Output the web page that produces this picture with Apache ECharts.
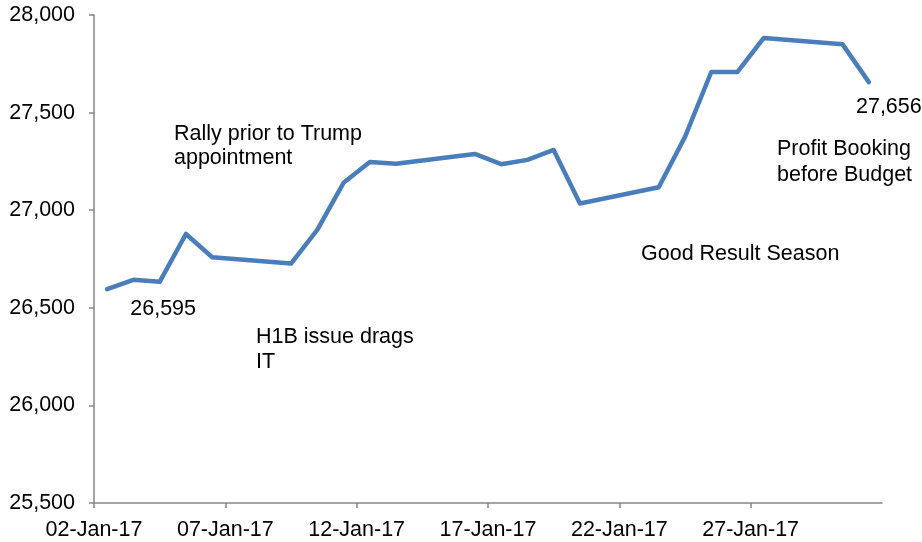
<!DOCTYPE html>
<html>
<head>
<meta charset="utf-8">
<script src="https://cdn.jsdelivr.net/npm/echarts@6/dist/echarts.min.js"></script>
<style>
  html, body { margin: 0; padding: 0; background: #fff; }
  #chart { width: 922px; height: 542px; }
</style>
</head>
<body>
<div id="chart"></div>
<script>
// Sensex daily close, January 2017
const dates = [
  '2017-01-02', '2017-01-03', '2017-01-04', '2017-01-05', '2017-01-06',
  '2017-01-09', '2017-01-10', '2017-01-11', '2017-01-12', '2017-01-13',
  '2017-01-16', '2017-01-17', '2017-01-18', '2017-01-19', '2017-01-20',
  '2017-01-23', '2017-01-24', '2017-01-25', '2017-01-26', '2017-01-27',
  '2017-01-30', '2017-01-31'
];
const closes = [
  26595.45, 26643.24, 26633.13, 26878.24, 26759.23,
  26726.68, 26899.56, 27140.41, 27247.16, 27238.06,
  27288.17, 27235.66, 27257.87, 27308.60, 27034.50,
  27117.34, 27375.58, 27708.14, 27708.14, 27882.46,
  27849.56, 27655.96
];
const axisStart = '2017-01-02';
const axisEnd = '2017-02-01';
const yTicks = [25500, 26000, 26500, 27000, 27500, 28000];
const notes = [
  'Rally prior to Trump\nappointment',
  'H1B issue drags\nIT',
  'Good Result Season',
  'Profit Booking\nbefore Budget'
];

const DAY = 86400000;
const MONTHS = ['Jan','Feb','Mar','Apr','May','Jun','Jul','Aug','Sep','Oct','Nov','Dec'];
const t0 = Date.parse(axisStart + 'T00:00:00Z');
const dayOf = s => (Date.parse(s + 'T00:00:00Z') - t0) / DAY;
const pad = n => (n < 10 ? '0' : '') + n;
const fmtDate = v => {
  const d = new Date(t0 + v * DAY);
  return pad(d.getUTCDate()) + '-' + MONTHS[d.getUTCMonth()] + '-' + String(d.getUTCFullYear()).slice(2);
};
const fmtNum = v => Math.round(v).toLocaleString('en-US');

const FONT = '"Liberation Sans", Arial, sans-serif';
const FS = 21.5;
const AXIS = '#868686';

// each trading day is plotted at midday, between its date ticks
const seriesData = dates.map((d, i) => {
  const item = { value: [dayOf(d) + 0.5, closes[i]] };
  if (i === 0) {
    item.label = { show: true, position: 'inside', offset: [56, 20] };
  } else if (i === dates.length - 1) {
    item.label = { show: true, position: 'inside', offset: [20, 25] };
  }
  return item;
});

const noteStyle = (text, x, y, lh) => ({
  type: 'text',
  x: x, y: y,
  silent: true,
  style: {
    text: text,
    fill: '#000',
    font: FS + 'px ' + FONT,
    lineHeight: lh,
    textAlign: 'left',
    textVerticalAlign: 'top'
  }
});

const chart = echarts.init(document.getElementById('chart'), null, { renderer: 'canvas' });
chart.setOption({
  animation: false,
  backgroundColor: '#fff',
  grid: { left: 94, right: 40, top: 15, bottom: 39, containLabel: false },
  xAxis: {
    type: 'value',
    min: 0,
    max: dayOf(axisEnd),
    interval: 5,
    axisLine: { show: true, lineStyle: { color: AXIS, width: 1.5 } },
    axisTick: { show: true, inside: false, length: 5, lineStyle: { color: AXIS, width: 1.5 } },
    splitLine: { show: false },
    axisLabel: {
      color: '#000', fontFamily: FONT, fontSize: FS, margin: 16,
      showMaxLabel: false,
      formatter: v => fmtDate(v)
    }
  },
  yAxis: {
    type: 'value',
    min: yTicks[0],
    max: yTicks[yTicks.length - 1],
    interval: yTicks[1] - yTicks[0],
    axisLine: { show: true, lineStyle: { color: AXIS, width: 1.5 } },
    axisTick: { show: true, inside: false, length: 5, lineStyle: { color: AXIS, width: 1.5 } },
    splitLine: { show: false },
    axisLabel: {
      color: '#000', fontFamily: FONT, fontSize: FS, margin: 19,
      formatter: v => fmtNum(v)
    }
  },
  series: [{
    type: 'line',
    data: seriesData,
    symbol: 'circle',
    symbolSize: 2,
    showSymbol: true,
    itemStyle: { color: 'rgba(0,0,0,0)', borderWidth: 0 },
    lineStyle: { color: '#4a7ebb', width: 4.5, cap: 'round', join: 'round' },
    label: {
      show: false,
      color: '#000', fontFamily: FONT, fontSize: FS,
      formatter: p => fmtNum(p.value[1])
    }
  }],
  graphic: [
    noteStyle(notes[0], 174, 122, 24),
    noteStyle(notes[1], 256, 324.5, 25),
    noteStyle(notes[2], 641, 241.5, 25),
    noteStyle(notes[3], 777, 136, 26)
  ]
});
</script>
</body>
</html>
